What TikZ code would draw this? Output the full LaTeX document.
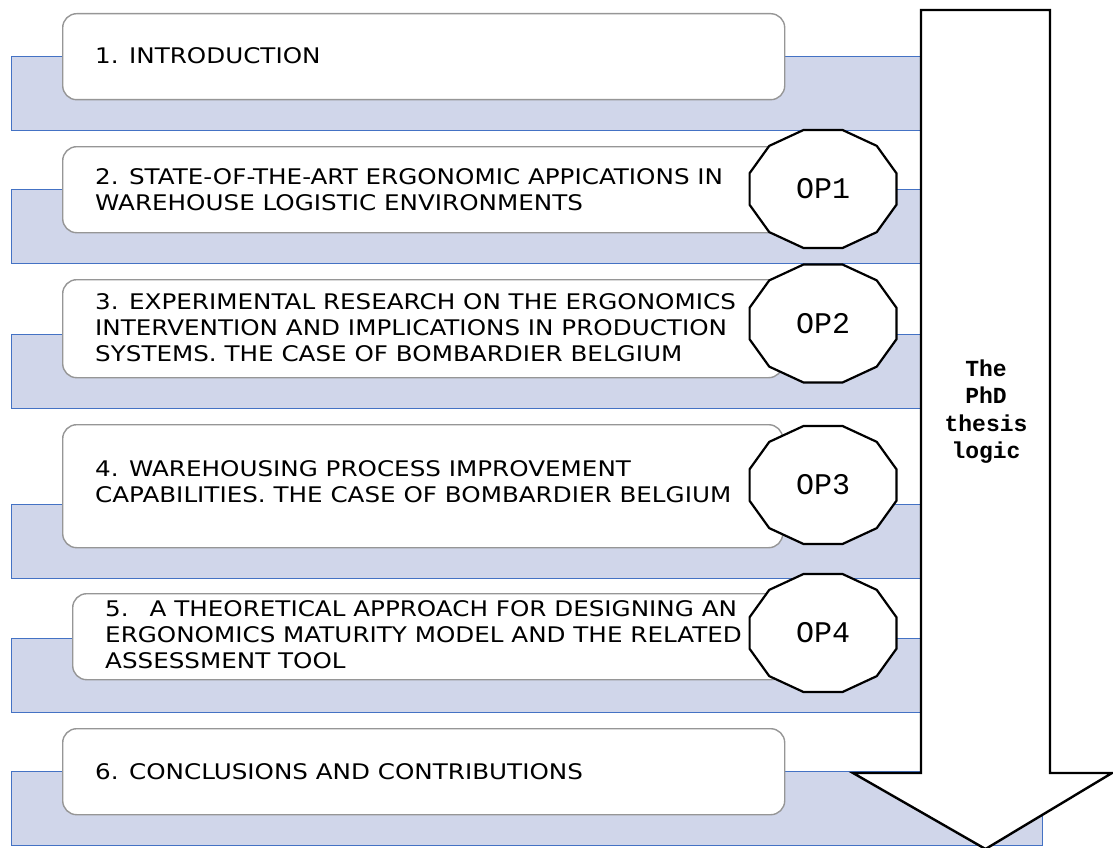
\documentclass[tikz,border=0pt]{standalone}
\usepackage{fontspec}
\usetikzlibrary{calc}
\newfontfamily\boxfont[FakeStretch=1.145]{DejaVu Sans}
\newfontfamily\opfont{Liberation Mono}
\definecolor{bandfill}{HTML}{D0D6EA}
\definecolor{bandline}{HTML}{4472C4}
\definecolor{boxline}{HTML}{969696}
\begin{document}
\begin{tikzpicture}[x=1pt,y=-1pt,
  band/.style={draw=bandline, fill=bandfill, line width=1.2pt, anchor=north west,
    inner sep=0pt, minimum width=1031.3pt, minimum height=74pt},
  chapter/.style={draw=boxline, fill=white, line width=1.4pt, rounded corners=14pt,
    anchor=north west, inner sep=0pt},
  chaptext/.style={anchor=west, inner sep=0pt, align=left,
    font=\boxfont\fontsize{21.5}{26}\selectfont},
  opline/.style={draw=black, fill=white, line width=2.2pt, line join=miter},
  optext/.style={inner sep=0pt, font=\opfont\fontsize{30}{30}\selectfont},
  arrowline/.style={draw=black, fill=white, line width=2.4pt, line join=miter},
  logictext/.style={align=center, inner sep=0pt,
    font=\opfont\bfseries\fontsize{23}{27.5}\selectfont}]
\useasboundingbox (0,0) rectangle (1113,848);

% background bands behind each chapter
\foreach \i/\t in {1/56,2/189,3/334,4/504,5/638,6/771}
  \node[band] (band\i) at (10.7,\t) {};

% chapter boxes
\node[chapter, minimum width=722pt, minimum height=86pt]  (ch1) at (62,13)  {};
\node[chapter, minimum width=722pt, minimum height=86pt]  (ch2) at (62,146) {};
\node[chapter, minimum width=720pt, minimum height=98pt]  (ch3) at (62,279) {};
\node[chapter, minimum width=720pt, minimum height=123pt] (ch4) at (62,424) {};
\node[chapter, minimum width=712pt, minimum height=86pt]  (ch5) at (72,593) {};
\node[chapter, minimum width=722pt, minimum height=86pt]  (ch6) at (62,728) {};

% chapter titles
\node[chaptext] (t1) at (95,55.5) {1. INTRODUCTION};
\node[chaptext] (t2) at (95,189.5) {2. STATE-OF-THE-ART ERGONOMIC APPICATIONS IN\\WAREHOUSE LOGISTIC ENVIRONMENTS};
\node[chaptext] (t3) at (95,328) {3. EXPERIMENTAL RESEARCH ON THE ERGONOMICS\\INTERVENTION AND IMPLICATIONS IN PRODUCTION\\SYSTEMS. THE CASE OF BOMBARDIER BELGIUM};
\node[chaptext] (t4) at (95,481.3) {4. WAREHOUSING PROCESS IMPROVEMENT\\CAPABILITIES. THE CASE OF BOMBARDIER BELGIUM};
\node[chaptext] (t5) at (105,635) {5.\hspace{21pt}A THEORETICAL APPROACH FOR DESIGNING AN\\ERGONOMICS MATURITY MODEL AND THE RELATED\\ASSESSMENT TOOL};
\node[chaptext] (t6) at (95,771.3) {6. CONCLUSIONS AND CONTRIBUTIONS};

% objective badges (twelve-sided, wider than tall)
\foreach \i/\y in {1/189,2/323.5,3/485,4/633} {
  \coordinate (c\i) at (823,\y);
  \draw[opline] ($(c\i)+(15:76 and 61)$)
    \foreach \a in {45,75,...,345} { -- ($(c\i)+(\a:76 and 61)$) } -- cycle;
  \node[optext] (op\i) at (c\i) {OP\i};
}

% downward block arrow
\coordinate (atl) at (921,10);
\coordinate (atr) at (1050,10);
\coordinate (ashr) at (1050,773);
\coordinate (awr) at (1112,773);
\coordinate (atip) at (985.5,849);
\coordinate (awl) at (853,773);
\coordinate (ashl) at (921,773);
\draw[arrowline] (atl) -- (atr) -- (ashr) -- (awr) -- (atip) -- (awl) -- (ashl) -- cycle;
\node[logictext] (logic) at (986,411.5) {The\\PhD\\thesis\\logic};
\end{tikzpicture}
\end{document}
